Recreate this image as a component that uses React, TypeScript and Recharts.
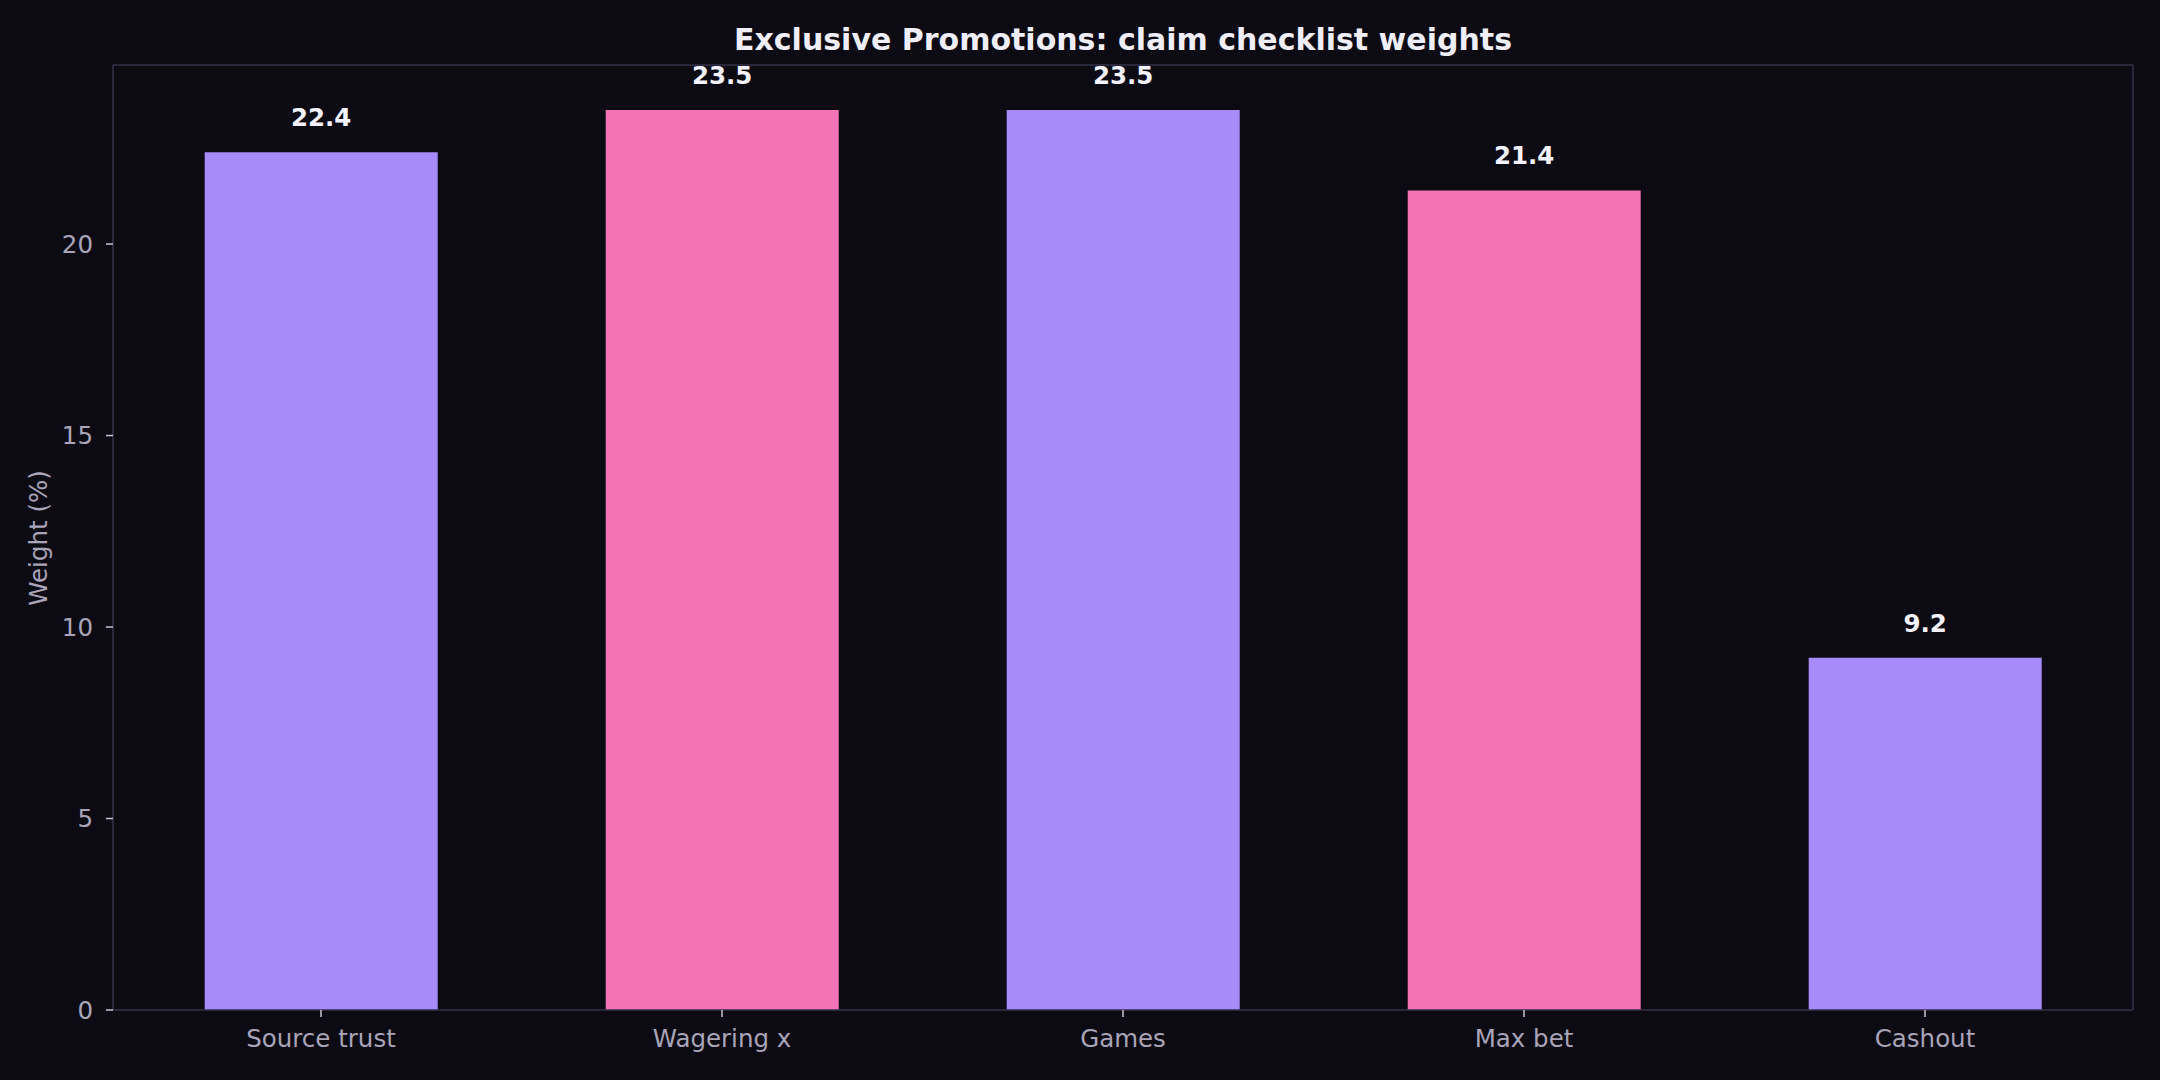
import { BarChart, Bar, XAxis, YAxis, Cell, LabelList } from 'recharts'

const categories = ['Source trust', 'Wagering x', 'Games', 'Max bet', 'Cashout']
const weights = [22.4, 23.5, 23.5, 21.4, 9.2]
const yTicks = [0, 5, 10, 15, 20]

const palette = ['#a78bfa', '#f472b6']
const bg = '#0c0b13'
const frame = '#34314a'
const muted = '#a9a4b8'
const font = 'DejaVu Sans, sans-serif'

const data = categories.map((name, i) => ({ name, value: weights[i] }))
const yMax = Math.max(...weights) * 1.05

export default function App() {
  return (
    <div style={{ position: 'absolute', left: 0, top: 0, width: 2160, height: 1080, background: bg, fontFamily: font }}>
      <BarChart
        width={2160}
        height={1080}
        data={data}
        margin={{ top: 64, right: 26, bottom: 0, left: 0 }}
        barCategoryGap="21%"
      >
        <XAxis
          dataKey="name"
          height={70}
          padding={{ left: 7.5, right: 7.5 }}
          axisLine={{ stroke: frame, strokeWidth: 1.5 }}
          tickLine={{ stroke: '#c8c4d4', strokeWidth: 1.5 }}
          tickSize={7}
          tickMargin={13}
          tick={{ fill: muted, fontSize: 24.5, fontFamily: font }}
          interval={0}
        />
        <XAxis
          xAxisId="top"
          orientation="top"
          dataKey="name"
          height={1}
          tick={false}
          tickLine={false}
          axisLine={{ stroke: frame, strokeWidth: 1.5 }}
        />
        <YAxis
          width={113}
          domain={[0, yMax]}
          ticks={yTicks}
          allowDataOverflow
          axisLine={{ stroke: frame, strokeWidth: 1.5 }}
          tickLine={{ stroke: '#c8c4d4', strokeWidth: 1.5 }}
          tickSize={7}
          tickMargin={13}
          tick={{ fill: muted, fontSize: 24.5, fontFamily: font }}
        />
        <YAxis
          yAxisId="right"
          orientation="right"
          width={1}
          domain={[0, yMax]}
          tick={false}
          tickLine={false}
          axisLine={{ stroke: frame, strokeWidth: 1.5 }}
        />
        <Bar dataKey="value" isAnimationActive={false}>
          {data.map((d, i) => (
            <Cell key={d.name} fill={palette[i % 2]} />
          ))}
          <LabelList
            dataKey="value"
            position="top"
            offset={26}
            formatter={(v: any) => Number(v).toFixed(1)}
            style={{ fill: '#f5f3ff', fontSize: 24.5, fontWeight: 700, fontFamily: font }}
          />
        </Bar>
      </BarChart>
      <svg width={2160} height={1080} style={{ position: 'absolute', left: 0, top: 0, pointerEvents: 'none' }}>
        <text x={1123} y={50} textAnchor="middle" fill="#f0eef8" fontSize={30} fontWeight={700} fontFamily={font}>
          Exclusive Promotions: claim checklist weights
        </text>
        <text
          x={47}
          y={538}
          transform="rotate(-90 47 538)"
          textAnchor="middle"
          fill={muted}
          fontSize={24.5}
          fontFamily={font}
        >
          Weight (%)
        </text>
      </svg>
    </div>
  )
}
